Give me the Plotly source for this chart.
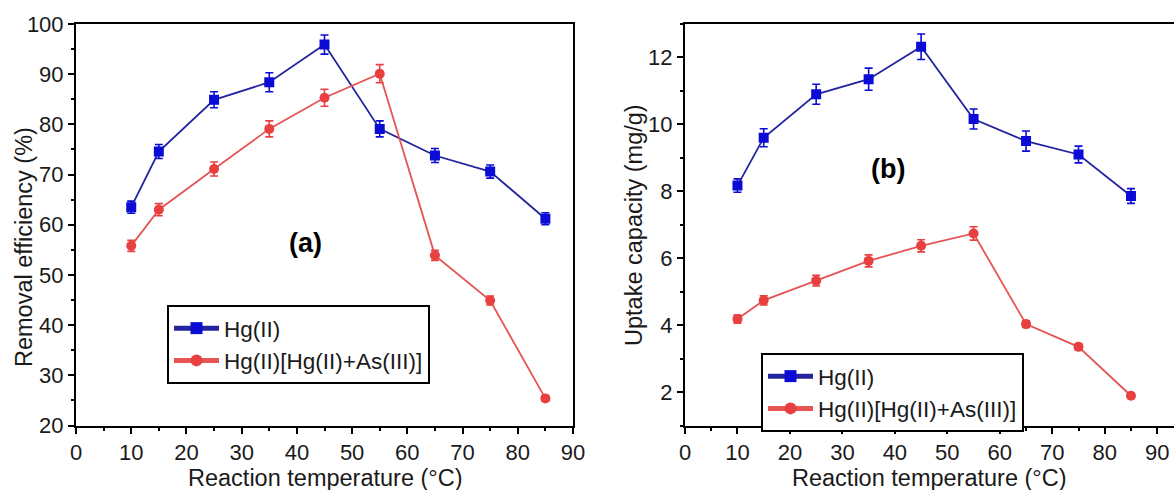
import plotly.graph_objects as go

temps = [10, 15, 25, 35, 45, 55, 65, 75, 85]

# Panel (a): removal efficiency (%)
eff_hg = [63.5, 74.6, 84.9, 88.4, 95.9, 79.1, 73.8, 70.6, 61.2]
eff_hg_err = [1.2, 1.4, 1.6, 1.9, 1.9, 1.6, 1.4, 1.3, 1.2]
eff_mix = [55.8, 63.0, 71.1, 79.1, 85.3, 90.1, 53.9, 44.9, 25.4]
eff_mix_err = [1.1, 1.2, 1.4, 1.6, 1.7, 1.8, 1.0, 0.9, 0.5]

# Panel (b): uptake capacity (mg/g)
cap_hg = [8.17, 9.6, 10.9, 11.35, 12.32, 10.16, 9.5, 9.1, 7.86]
cap_hg_err = [0.2, 0.27, 0.3, 0.33, 0.38, 0.3, 0.3, 0.25, 0.22]
cap_mix = [4.18, 4.74, 5.33, 5.92, 6.37, 6.74, 4.03, 3.35, 1.89]
cap_mix_err = [0.12, 0.14, 0.16, 0.18, 0.18, 0.2, 0.1, 0.09, 0.06]

names = ["Hg(II)", "Hg(II)[Hg(II)+As(III)]"]
x_ticks = [0, 10, 20, 30, 40, 50, 60, 70, 80, 90]
x_title = "Reaction temperature (°C)"
y_title_a = "Removal efficiency (%)"
y_title_b = "Uptake capacity (mg/g)"

BLUE_M = "#0b0bd6"
BLUE_L = "#24249e"
RED_M = "#e84040"
RED_L = "#e65454"
FONT = "Liberation Sans, Arial, sans-serif"
TXT = "#1a1a1a"

fig = go.Figure()

def add(x, y, err, name, mcol, lcol, symbol, xa, ya, legend):
    fig.add_trace(go.Scatter(
        x=x, y=y, name=name, mode="lines+markers",
        xaxis=xa, yaxis=ya, legend=legend,
        line=dict(color=lcol, width=1.8),
        marker=dict(color=mcol, symbol=symbol, size=10),
        error_y=dict(type="data", array=err, visible=True,
                     color=mcol, thickness=1.6, width=4),
    ))

add(temps, eff_hg, eff_hg_err, names[0], BLUE_M, BLUE_L, "square", "x", "y", "legend")
add(temps, eff_mix, eff_mix_err, names[1], RED_M, RED_L, "circle", "x", "y", "legend")
add(temps, cap_hg, cap_hg_err, names[0], BLUE_M, BLUE_L, "square", "x2", "y2", "legend2")
add(temps, cap_mix, cap_mix_err, names[1], RED_M, RED_L, "circle", "x2", "y2", "legend2")

W, H = 1174, 490
def px(v):
    return v / W
def py(v):
    return 1 - v / H

axis_common = dict(
    automargin=False,
    showline=True, linecolor="black", linewidth=2,
    ticks="outside", ticklen=6, tickwidth=1.5, tickcolor="black",
    showgrid=False, zeroline=False,
    tickfont=dict(size=22, color=TXT, family=FONT),
    minor=dict(ticks="outside", ticklen=3, tickwidth=1.5, tickcolor="black"),
)

legend_common = dict(
    xanchor="left", yanchor="top",
    bordercolor="black", borderwidth=2, bgcolor="white",
    font=dict(size=22.5, family=FONT, color=TXT),
    tracegroupgap=0, itemsizing="constant", itemwidth=45,
)

title_font = dict(size=23.5, family=FONT, color=TXT)

fig.update_layout(
    width=W, height=H,
    margin=dict(l=0, r=0, t=0, b=0, autoexpand=False),
    paper_bgcolor="white", plot_bgcolor="white",
    font=dict(family=FONT, color=TXT),
    xaxis=dict(domain=[px(76), px(573)], range=[0, 90], anchor="y",
               tickvals=x_ticks, minor_dtick=5, mirror=True, **axis_common),
    yaxis=dict(domain=[py(425.5), py(24)], range=[20, 100], anchor="x",
               dtick=10, minor_dtick=5, mirror=True, **axis_common),
    xaxis2=dict(domain=[px(685), 1.0], range=[0, 93.2], anchor="y2",
                tickvals=x_ticks, minor_dtick=5, mirror=True, **axis_common),
    yaxis2=dict(domain=[py(425.5), py(24)], range=[1, 13], anchor="x2",
                tickvals=[2, 4, 6, 8, 10, 12], minor_dtick=1, mirror=False,
                **axis_common),
    legend=dict(x=px(167), y=py(305), **legend_common),
    legend2=dict(x=px(761), y=py(353), **legend_common),
    annotations=[
        dict(text="<b>(a)</b>", x=41.5, y=56.3, xref="x", yref="y",
             showarrow=False, font=dict(size=27, family=FONT, color="black")),
        dict(text="<b>(b)</b>", x=38.7, y=8.67, xref="x2", yref="y2",
             showarrow=False, font=dict(size=27, family=FONT, color="black")),
        dict(text=x_title, x=px(325), y=py(478), xref="paper", yref="paper",
             xanchor="center", yanchor="middle", showarrow=False, font=title_font),
        dict(text=x_title, x=px(930), y=py(478), xref="paper", yref="paper",
             xanchor="center", yanchor="middle", showarrow=False, font=title_font),
        dict(text=y_title_a, x=px(24), y=py(247), xref="paper", yref="paper",
             xanchor="center", yanchor="middle", textangle=-90,
             showarrow=False, font=title_font),
        dict(text=y_title_b, x=px(634), y=py(225), xref="paper", yref="paper",
             xanchor="center", yanchor="middle", textangle=-90,
             showarrow=False, font=title_font),
    ],
)

fig.write_html(
    "out.html",
    config={"displayModeBar": False},
    post_script="document.body.style.margin='0';document.body.style.overflow='hidden';",
)
